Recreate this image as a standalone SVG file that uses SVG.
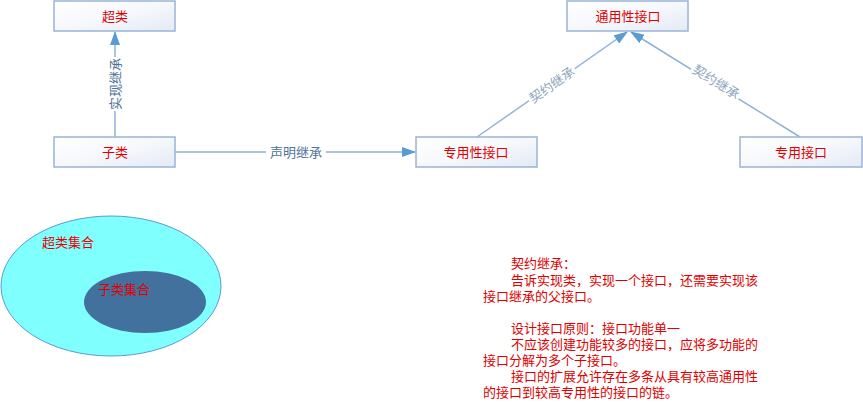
<svg xmlns="http://www.w3.org/2000/svg" width="863" height="406" viewBox="0 0 863 406">
<defs>
<linearGradient id="boxg" x1="0" y1="0" x2="1" y2="1">
<stop offset="0" stop-color="#FFFFFF"/>
<stop offset="0.5" stop-color="#F6F8FC"/>
<stop offset="1" stop-color="#E3E9F4"/>
</linearGradient>
<marker id="arr" markerWidth="14" markerHeight="10" refX="13" refY="5" orient="auto" markerUnits="userSpaceOnUse">
<path d="M0,0 L14,5 L0,10 Z" fill="#5B9BD5"/>
</marker>
</defs>
<style>
.box{fill:url(#boxg);stroke:#9BB4D6;stroke-width:1.5}
.lbl{font-family:"Liberation Sans","Noto Sans CJK SC",sans-serif;font-size:13px;fill:#E00000;text-anchor:middle}
.edge{stroke:#8FB1DA;stroke-width:1.5;fill:none}
.elbl{font-family:"Liberation Sans","Noto Sans CJK SC",sans-serif;font-size:13px;fill:#4E7399;text-anchor:middle}
.elbl2{font-family:"Liberation Sans","Noto Sans CJK SC",sans-serif;font-size:13px;fill:#8EA3BC;text-anchor:middle}
.note{font-family:"Liberation Sans","Noto Sans CJK SC",sans-serif;font-size:13px;fill:#E00000}
.bg{fill:#FFFFFF}
</style>
<rect width="863" height="406" fill="#FFFFFF"/>

<g id="connectors">
<line class="edge" x1="115" y1="137" x2="115" y2="32" marker-end="url(#arr)"/>
<rect class="bg" x="107" y="57" width="16" height="54"/>
<text class="elbl" transform="translate(115,84) rotate(-90)" y="4.5">实现继承</text>

<line class="edge" x1="175" y1="152" x2="415" y2="152" marker-end="url(#arr)"/>
<rect class="bg" x="266" y="144" width="60" height="16"/>
<text class="elbl" x="296" y="156.5">声明继承</text>

<line class="edge" x1="477" y1="137" x2="627" y2="32" marker-end="url(#arr)"/>
<g transform="translate(552,85) rotate(-35)">
<rect class="bg" x="-28" y="-7" width="56" height="14"/>
<text class="elbl2" y="4.5">契约继承</text>
</g>

<line class="edge" x1="800" y1="137" x2="631" y2="32" marker-end="url(#arr)"/>
<g transform="translate(716,82) rotate(31.8)">
<rect class="bg" x="-28" y="-7" width="56" height="14"/>
<text class="elbl2" y="4.5">契约继承</text>
</g>
</g>

<g id="superclass">
<rect class="box" x="54" y="1" width="121" height="30"/>
<text class="lbl" x="115" y="20.5">超类</text>
</g>
<g id="subclass">
<rect class="box" x="54" y="137" width="121" height="30"/>
<text class="lbl" x="115" y="156.5">子类</text>
</g>
<g id="special-iface">
<rect class="box" x="416" y="137" width="121" height="30"/>
<text class="lbl" x="476" y="156.5">专用性接口</text>
</g>
<g id="general-iface">
<rect class="box" x="567" y="1" width="121" height="30"/>
<text class="lbl" x="628" y="20.5">通用性接口</text>
</g>
<g id="dedicated-iface">
<rect class="box" x="740" y="137" width="122" height="30"/>
<text class="lbl" x="801" y="156.5">专用接口</text>
</g>

<g id="superset">
<ellipse cx="111" cy="286" rx="110" ry="70" fill="#80FFFF" stroke="#5B9BD5" stroke-width="1"/>
<text class="note" x="42" y="247">超类集合</text>
</g>
<g id="subset">
<ellipse cx="145" cy="302" rx="61" ry="31" fill="#41719C"/>
<text class="note" x="98" y="294">子类集合</text>
</g>

<g id="notes">
<text class="note" x="511" y="268">契约继承：</text>
<text class="note" x="511" y="285">告诉实现类，实现一个接口，还需要实现该</text>
<text class="note" x="483" y="301">接口继承的父接口。</text>
<text class="note" x="511" y="333">设计接口原则：接口功能单一</text>
<text class="note" x="511" y="349">不应该创建功能较多的接口，应将多功能的</text>
<text class="note" x="483" y="365">接口分解为多个子接口。</text>
<text class="note" x="511" y="381">接口的扩展允许存在多条从具有较高通用性</text>
<text class="note" x="483" y="397">的接口到较高专用性的接口的链。</text>
</g>
</svg>
